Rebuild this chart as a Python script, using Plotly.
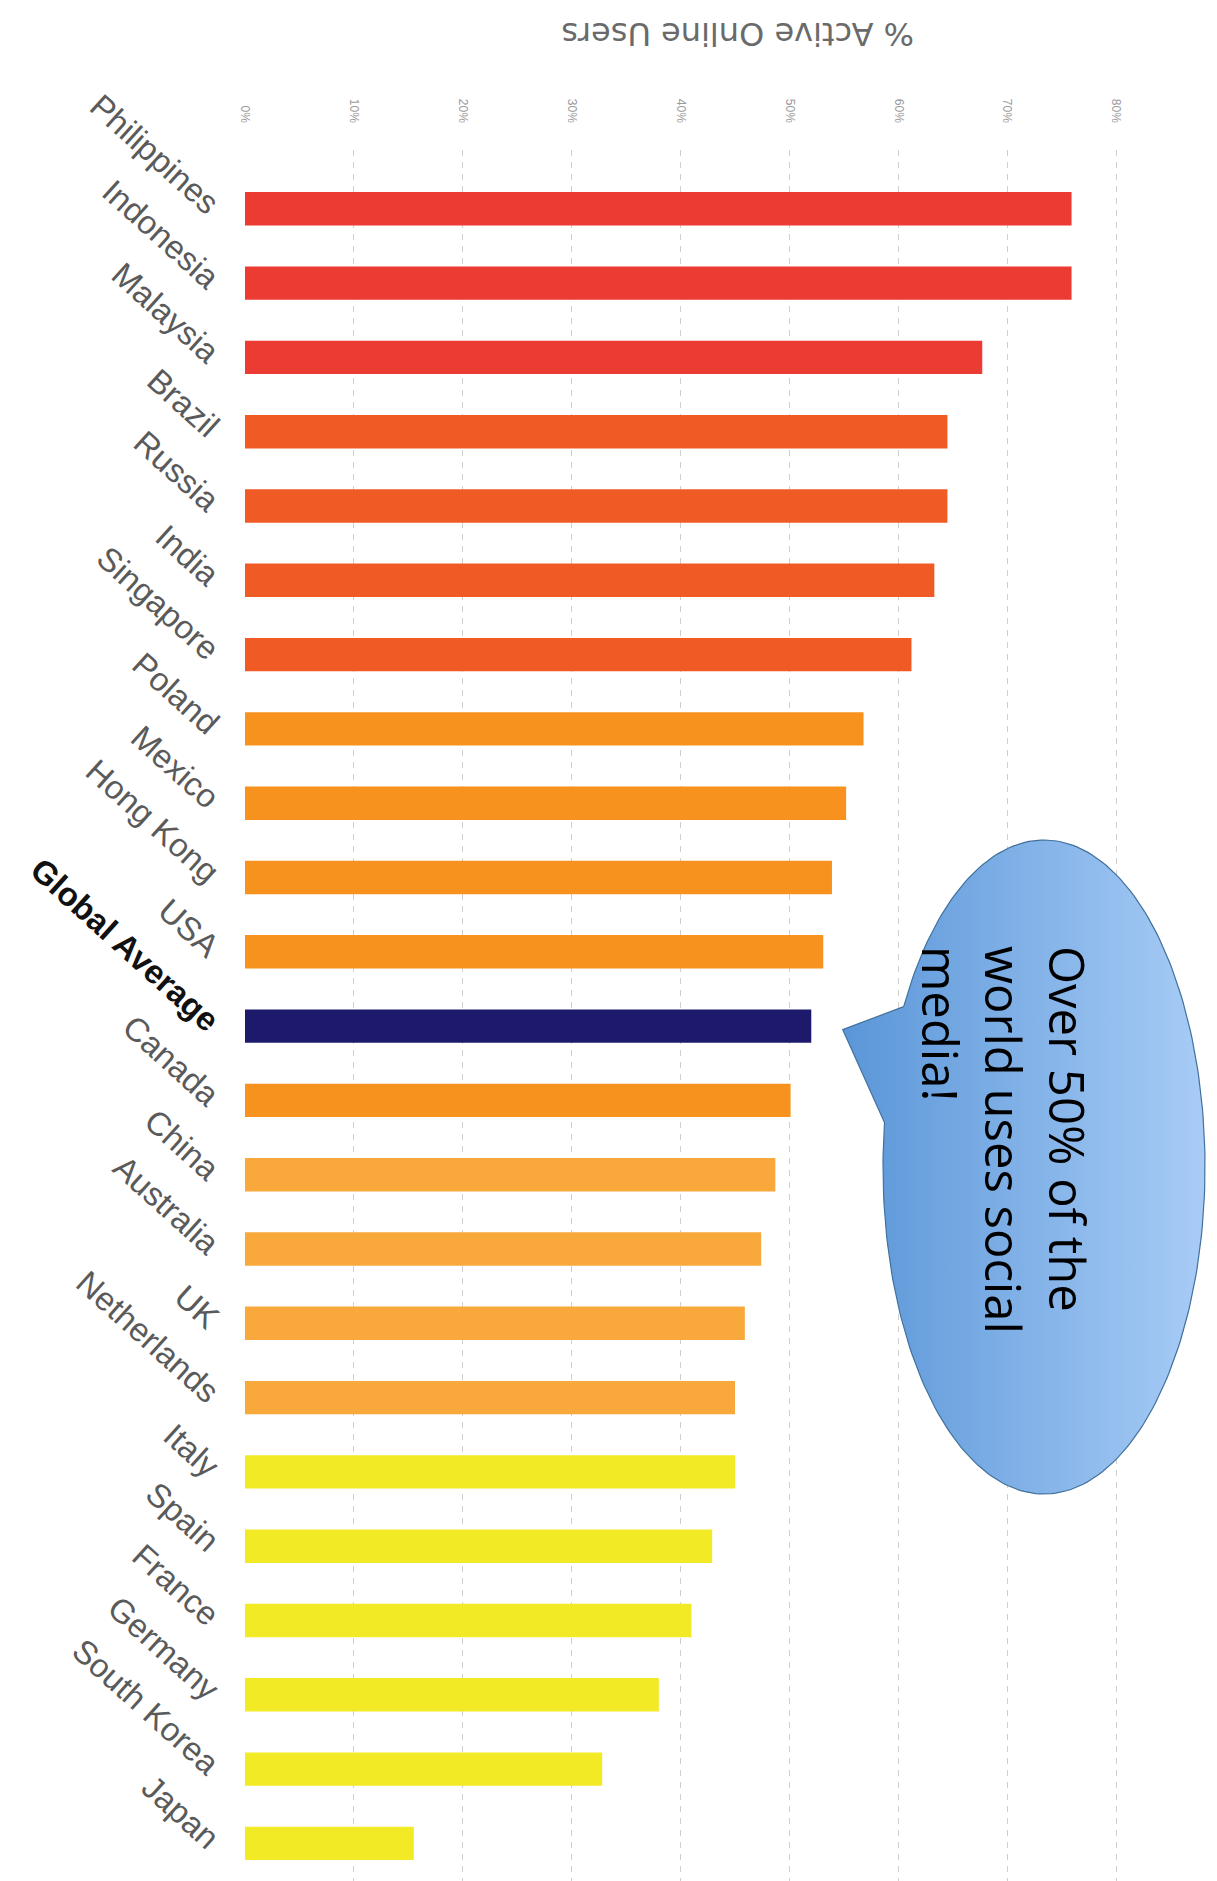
import numpy as np
import plotly.graph_objects as go

# ---------------- data ----------------
countries = ["Philippines", "Indonesia", "Malaysia", "Brazil", "Russia", "India",
             "Singapore", "Poland", "Mexico", "Hong Kong", "USA", "Global Average",
             "Canada", "China", "Australia", "UK", "Netherlands", "Italy", "Spain",
             "France", "Germany", "South Korea", "Japan"]
active_pct = [75.9, 75.9, 67.7, 64.5, 64.5, 63.3, 61.2, 56.8, 55.2, 53.9, 53.1, 52.0,
              50.1, 48.7, 47.4, 45.9, 45.0, 45.0, 42.9, 41.0, 38.0, 32.8, 15.5]
tick_values = [0, 10, 20, 30, 40, 50, 60, 70, 80]
tick_labels = ["0%", "10%", "20%", "30%", "40%", "50%", "60%", "70%", "80%"]
axis_title = "% Active Online Users"
callout_text = "Over 50% of the<br>world uses social<br>media!"

# ---------------- styles ----------------
group_colors = {
    "red": "#EC3B32", "redorange": "#F05A24", "orange": "#F7921E",
    "lightorange": "#F9A83B", "yellow": "#F3EA26", "navy": "#1D1A6B",
}
group_of = (["red"] * 3 + ["redorange"] * 4 + ["orange"] * 4 + ["navy"] +
            ["orange"] + ["lightorange"] * 4 + ["yellow"] * 6)
bar_colors = [group_colors[g] for g in group_of]

W, H = 1217, 1881
L, R, T, B = 245, 3, 150, 0
PW, PH = W - L - R, H - T - B
px_per_pct = 10.89
x_max = PW / px_per_pct
row_px = 74.3
first_row_px = 208.8
y_top = (T - first_row_px) / row_px
y_bot = (H - B - first_row_px) / row_px


def py2paper(py):
    return 1 - (py - T) / PH


def px2paper(px):
    return (px - L) / PW


ticktext_y = [
    ('<span style="color:#111111"><b>%s</b></span>' % c) if c == "Global Average" else c
    for c in countries
]

fig = go.Figure()
fig.add_trace(go.Bar(
    y=countries, x=active_pct, orientation="h",
    marker=dict(color=bar_colors, line=dict(width=0)),
    width=0.45, hoverinfo="x+y", showlegend=False,
))

# callout bubble (decoration) drawn in pixel-space overlay axes
cx, cy, a, b = 1044.0, 1167.0, 161.0, 327.0
t = np.linspace(3.654, 3.278 + 2 * np.pi, 240)
bx = list(cx + a * np.cos(t)) + [842.7, cx + a * np.cos(3.654)]
by = list(cy + b * np.sin(t)) + [1029.6, cy + b * np.sin(3.654)]
fig.add_trace(go.Scatter(
    x=bx, y=by, xaxis="x2", yaxis="y2", mode="lines", fill="toself",
    line=dict(color="#41719C", width=1.2),
    fillgradient=dict(type="horizontal",
                      colorscale=[[0, "#5A96D8"], [1, "#A8CCF6"]]),
    hoverinfo="skip", showlegend=False,
))

fig.update_layout(
    width=W, height=H,
    margin=dict(l=L, r=R, t=T, b=B, pad=0),
    paper_bgcolor="white", plot_bgcolor="white",
    bargap=0.55,
    xaxis=dict(
        range=[0, x_max], side="top", tickvals=tick_values, ticktext=tick_labels,
        tickangle=90, tickfont=dict(family="Liberation Sans, Arial", size=12, color="#9a9a9a"),
        showgrid=True, gridcolor="#cfcfcf", gridwidth=1, griddash="6px,6px",
        zeroline=False, showline=False, ticks="outside", ticklen=22,
        tickcolor="rgba(0,0,0,0)", automargin=False, fixedrange=True,
    ),
    yaxis=dict(
        type="category", categoryorder="array", categoryarray=countries,
        range=[y_bot, y_top], tickvals=countries, ticktext=ticktext_y,
        tickangle=42, tickfont=dict(family="Liberation Sans, Arial", size=33, color="#5a5a5a"),
        showgrid=False, zeroline=False, showline=False, ticks="outside", ticklen=20,
        tickcolor="rgba(0,0,0,0)", automargin=False, fixedrange=True,
    ),
    xaxis2=dict(overlaying="x", range=[L, W - R], visible=False, fixedrange=True),
    yaxis2=dict(overlaying="y", range=[H - B, T], visible=False, fixedrange=True),
    annotations=[
        dict(text=axis_title, xref="paper", yref="paper",
             x=px2paper(738), y=py2paper(34), showarrow=False, textangle=180,
             font=dict(family="DejaVu Sans, Arial", size=32, color="#6a6a6a"),
             xanchor="center", yanchor="middle"),
        dict(text=callout_text, xref="x2", yref="y2", x=1005, y=1140,
             showarrow=False, textangle=90, align="left",
             font=dict(family="Open Sans, Noto Sans, Arial", size=49, color="#000000"),
             xanchor="center", yanchor="middle"),
    ],
)

fig.write_html("out.html")
